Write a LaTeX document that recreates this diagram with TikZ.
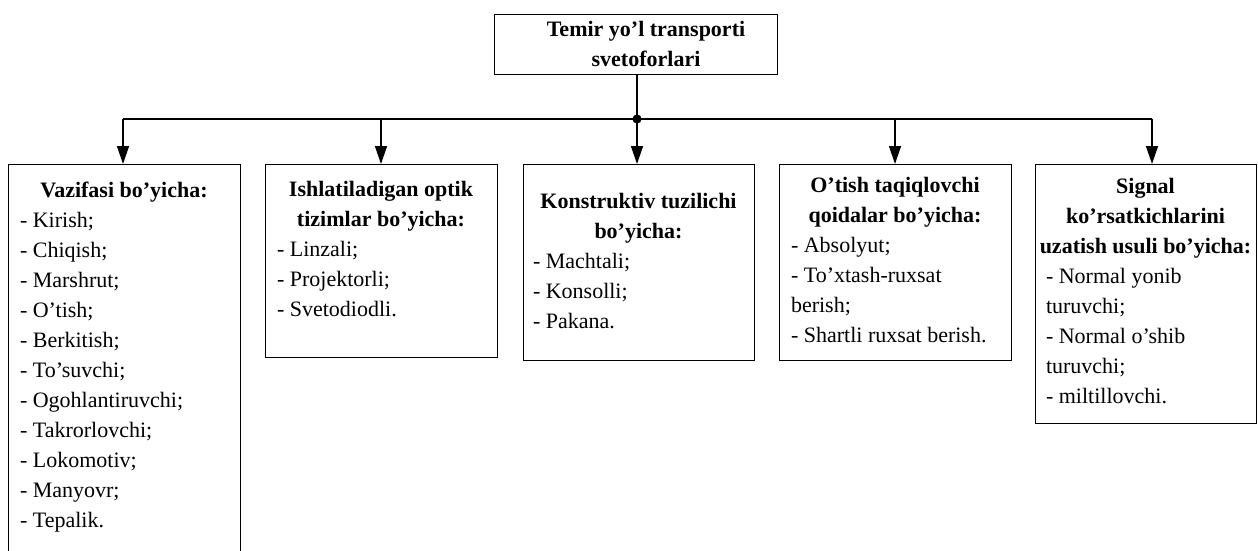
\documentclass[tikz,border=0pt]{standalone}
\usepackage{fontspec}
\setmainfont{Liberation Serif}
\usetikzlibrary{arrows.meta}
\newcommand{\mytitle}[1]{\makebox[\linewidth]{\bfseries #1}}
\begin{document}
\begin{tikzpicture}[x=1pt,y=-1pt,
  frame/.style={draw=black, line width=1.3pt, rectangle, inner sep=0pt, anchor=north west, fill=white},
  btext/.style={inner sep=0pt, anchor=base, font=\fontsize{22}{30}\selectfont},
  conn/.style={line width=1.4pt, draw=black},
  arr/.style={conn, -{Triangle[length=18pt,width=12pt]}}]
\path[use as bounding box] (0,0) rectangle (1258,550);
\begin{scope}
\clip (0,0) rectangle (1258,550);
% top box
\node[frame, minimum width=283pt, minimum height=60pt] (top) at (494,14) {};
\node[btext] (t0) at (646,36) {\parbox[t]{260pt}{\centering\bfseries Temir yo’l transporti\\svetoforlari}};
% boxes
\node[frame, minimum width=232pt, minimum height=420pt] (b1) at (8,164) {};
\node[frame, minimum width=232pt, minimum height=193pt] (b2) at (265,164) {};
\node[frame, minimum width=231pt, minimum height=196pt] (b3) at (523,164) {};
\node[frame, minimum width=232pt, minimum height=196pt] (b4) at (779,164) {};
\node[frame, minimum width=221pt, minimum height=259pt] (b5) at (1035,164) {};
% texts
\node[btext] (t1) at (124,197) {\parbox[t]{208pt}{\raggedright
\mytitle{Vazifasi bo’yicha:}\\
- Kirish;\\
- Chiqish;\\
- Marshrut;\\
- O’tish;\\
- Berkitish;\\
- To’suvchi;\\
- Ogohlantiruvchi;\\
- Takrorlovchi;\\
- Lokomotiv;\\
- Manyovr;\\
- Tepalik.}};
\node[btext] (t2) at (381,196) {\parbox[t]{208pt}{\raggedright
\mytitle{Ishlatiladigan optik}\\
\mytitle{tizimlar bo’yicha:}\\
- Linzali;\\
- Projektorli;\\
- Svetodiodli.}};
\node[btext] (t3) at (638.5,208) {\parbox[t]{211pt}{\raggedright
\mytitle{Konstruktiv tuzilichi}\\
\mytitle{bo’yicha:}\\
- Machtali;\\
- Konsolli;\\
- Pakana.}};
\node[btext] (t4) at (895,192) {\parbox[t]{208pt}{\raggedright
\mytitle{O’tish taqiqlovchi}\\
\mytitle{qoidalar bo’yicha:}\\
- Absolyut;\\
- To’xtash-ruxsat\\
berish;\\
- Shartli ruxsat berish.}};
\node[btext] (t5) at (1145.5,193) {\parbox[t]{199pt}{\raggedright
\mytitle{Signal}\\
\mytitle{ko’rsatkichlarini}\\
\mytitle{uzatish usuli bo’yicha:}\\
- Normal yonib\\
turuvchi;\\
- Normal o’shib\\
turuvchi;\\
- miltillovchi.}};
% connectors
\coordinate (hub) at (637,119);
\coordinate (j1) at (123,119);
\coordinate (j2) at (381,119);
\coordinate (j4) at (895,119);
\coordinate (j5) at (1152,119);
\draw[conn] (hub |- top.south) -- (hub);
\draw[conn] (j1) -- (j5);
\fill (hub) circle (4.6pt);
\draw[arr] (j1) -- (j1 |- b1.north);
\draw[arr] (j2) -- (j2 |- b2.north);
\draw[arr] (hub) -- (hub |- b3.north);
\draw[arr] (j4) -- (j4 |- b4.north);
\draw[arr] (j5) -- (j5 |- b5.north);
\end{scope}
\end{tikzpicture}
\end{document}
